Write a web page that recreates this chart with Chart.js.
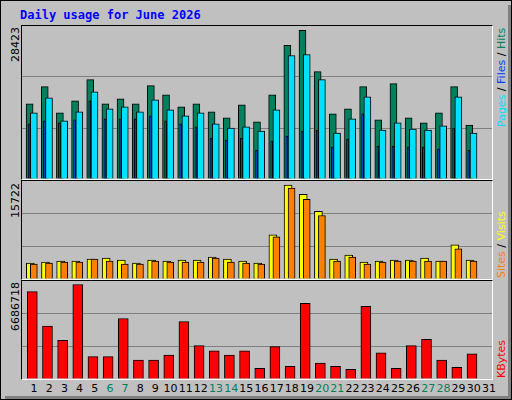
<!DOCTYPE html>
<html>
<head>
<meta charset="utf-8">
<script src="https://cdn.jsdelivr.net/npm/chart.js@4/dist/chart.umd.min.js"></script>
<style>
  body { margin: 0; background: #fff; }
  #page { position: absolute; left: 0; top: 0; width: 510px; height: 398px; background: #C0C0C0;
    border: 1px solid #000; overflow: hidden; }
  #page:after { content: ""; position: absolute; right: 0; top: 4px; width: 3px; bottom: 0; background: #808080; }
  #page:before { content: ""; position: absolute; left: 4px; bottom: 0; height: 3px; right: 0; background: #808080; }
  .panel { position: absolute; left: 20px; width: 470px; border-top: 1px solid #000; border-left: 1px solid #000;
    border-right: 1px solid #fff; border-bottom: 1px solid #fff; }
  .title { position: absolute; left: 19px; top: 7px; font: bold 12px "DejaVu Sans Mono", monospace; color: #0000FF; }
  .vtext { position: absolute; writing-mode: vertical-rl; transform: rotate(180deg); font: 11px "DejaVu Sans", sans-serif; white-space: nowrap; }
  .day { position: absolute; top: 381px; font: 11px "DejaVu Sans", sans-serif; width: 20px; text-align: center; }
</style>
</head>
<body>
<div id="page">
  <div class="title">Daily usage for June 2026</div>
  <div class="panel" style="top:24px;height:153px"><canvas id="c1"></canvas></div>
  <div class="panel" style="top:179px;height:98px"><canvas id="c2"></canvas></div>
  <div class="panel" style="top:279px;height:98px"><canvas id="c3"></canvas></div>
</div>
<script>
const days = Array.from({ length: 31 }, (_, i) => i + 1)
const weekend = [6, 7, 13, 14, 20, 21, 27, 28]

const hits = [13970, 17150, 12290, 14530, 18460, 13970, 14900, 13970, 17340, 15650, 13410, 13970, 12470, 11350, 13780,
  10600, 15650, 24810, 27620, 19950, 12100, 13030, 17150, 10980, 17710, 11350, 10420, 12290, 17150, 10040]
const files = [12290, 15090, 10790, 12470, 16210, 13030, 13410, 12470, 14720, 12850, 11720, 12290, 10230, 9480, 9670,
  8920, 12850, 22950, 23130, 18460, 8550, 11160, 15280, 9110, 10420, 9290, 9110, 9860, 15280, 8550]
const pages = [10230, 10790, 10420, 10980, 14530, 11160, 11160, 11160, 11720, 10790, 10230, 9670, 7610, 7240, 7610,
  5370, 7050, 7990, 8920, 9110, 5930, 7420, 12100, 6110, 6110, 5930, 5930, 5550, 9480, 5370]
const visits = [2547, 2710, 2873, 2873, 3198, 3360, 3035, 2547, 3035, 2873, 3035, 3035, 3523, 3198, 2873,
  2547, 7100, 15070, 13600, 10840, 3198, 3848, 2710, 2873, 3035, 3035, 3360, 2873, 5474, 3035]
const sites = [2385, 2547, 2710, 2710, 3198, 2873, 2385, 2385, 2873, 2710, 2710, 2710, 3360, 2710, 2547,
  2385, 6775, 14580, 12790, 10190, 2873, 3523, 2385, 2710, 2873, 2873, 2873, 2873, 4824, 2873]
const kbytes = [5960000, 3610000, 2630000, 6450000, 1525000, 1525000, 4130000, 1290000, 1290000, 1640000, 3920000,
  2280000, 1920000, 1640000, 1920000, 727000, 2205000, 868000, 5160000, 1080000, 868000, 657000, 4950000, 1780000,
  727000, 2280000, 2700000, 1290000, 798000, 1710000]
const maxTop = 28423, maxMid = 15722, maxBot = 6686718

const pxPerDay = 470 / 31
const page = document.getElementById("page")

function series(values, shift, color, width, order) {
  return {
    data: values.map((v, i) => ({ x: days[i] + shift, y: v })),
    backgroundColor: color, borderColor: "#000", borderWidth: 1, borderSkipped: "bottom",
    barThickness: width, grouped: false, order: order
  }
}

function makeChart(id, datasets, max) {
  new Chart(document.getElementById(id), {
    type: "bar",
    data: { datasets },
    options: {
      responsive: true, maintainAspectRatio: false, animation: false,
      layout: { padding: 0 },
      plugins: { legend: { display: false }, tooltip: { enabled: false } },
      scales: {
        x: { type: "linear", min: 0.5, max: 31.5, offset: false, display: false },
        y: {
          min: 0, max: max, afterBuildTicks: axis => { axis.ticks = [0, max / 3, max * 2 / 3, max].map(v => ({ value: v })) },
          border: { display: false },
          ticks: { display: false },
          grid: { drawTicks: false, color: ctx => (ctx.index === 1 || ctx.index === 2) ? "#808080" : "rgba(0,0,0,0)" }
        }
      }
    }
  })
}

// hits / files / pages (higher order is drawn first, so it sits behind)
makeChart("c1", [
  series(hits, 0.0, "#00805C", 7, 3),
  series(files, 0.28, "#00E0FF", 7, 2),
  series(pages, -0.03, "#0040FF", 2, 1)
], maxTop)
makeChart("c2", [
  series(visits, 0.05, "#FFFF00", 8, 2),
  series(sites, 0.28, "#FF8000", 7, 1)
], maxMid)
makeChart("c3", [series(kbytes, 0.18, "#FF0000", 10, 1)], maxBot)

// y labels, side legends
function vtext(html, left, top, height, align) {
  const el = document.createElement("div")
  el.className = "vtext"
  el.style.left = left + "px"
  el.style.top = top + "px"
  el.style.height = height + "px"
  el.style.textAlign = align
  el.innerHTML = html
  page.appendChild(el)
}
vtext("28423", 8, 26, 60, "end")
vtext("15722", 8, 182, 60, "end")
vtext("6686718", 8, 281, 70, "end")
vtext('<span style="color:#00E0FF">Pages</span> / <span style="color:#0040FF">Files</span> / <span style="color:#00805C">Hits</span>', 494, 27, 140, "end")
vtext('<span style="color:#FF8000">Sites</span> / <span style="color:#FFFF00">Visits</span>', 494, 190, 87, "start")
vtext('<span style="color:#FF0000">KBytes</span>', 494, 310, 67, "start")

// day labels
days.forEach(d => {
  const el = document.createElement("div")
  el.className = "day"
  el.textContent = d
  el.style.left = (21 + pxPerDay * (d - 0.5) + 4.5 - 10) + "px"
  el.style.color = weekend.includes(d) ? "#00805C" : "#000"
  page.appendChild(el)
})
</script>
</body>
</html>
